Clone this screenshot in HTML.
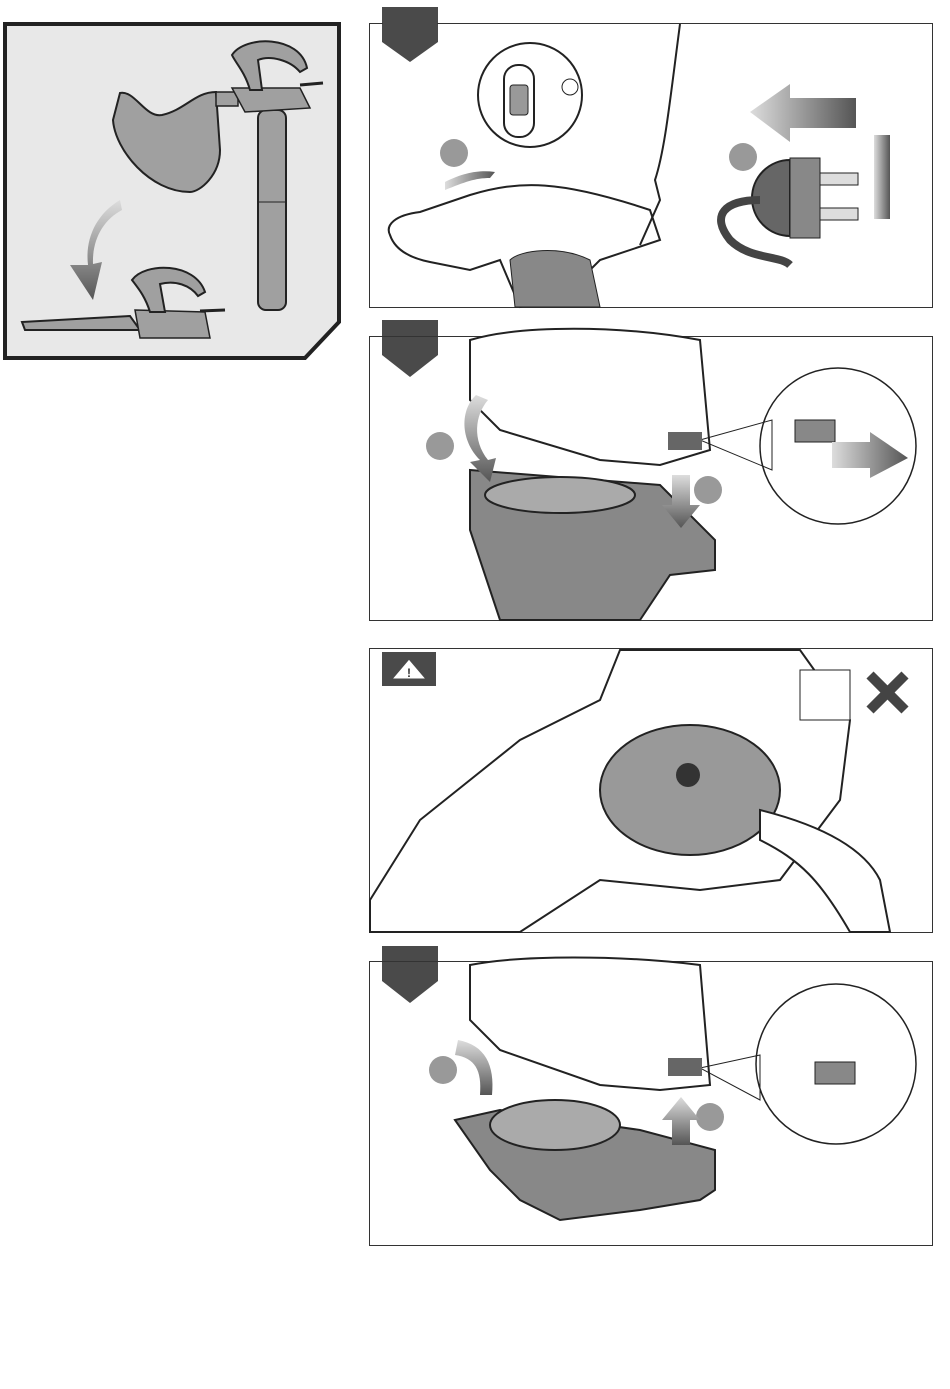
<!DOCTYPE html>
<html><head><meta charset="utf-8"><style>html,body{margin:0;padding:0;background:#fff}svg{display:block}</style></head>
<body>
<svg width="950" height="1389" viewBox="0 0 950 1389" xmlns="http://www.w3.org/2000/svg">
<defs>
<linearGradient id="ga" x1="0" y1="0" x2="0" y2="1"><stop offset="0" stop-color="#ddd"/><stop offset="1" stop-color="#555"/></linearGradient>
<linearGradient id="gh" x1="0" y1="0" x2="1" y2="0"><stop offset="0" stop-color="#ddd"/><stop offset="1" stop-color="#555"/></linearGradient>
</defs>
<path d="M5 24 H339 V322 L305 358 H5 Z" fill="#e8e8e8" stroke="#222" stroke-width="4"/>
<path d="M120 93 C135 90 145 118 162 115 C185 110 195 92 216 92 L220 150 C220 175 200 192 190 192 C150 192 115 150 113 120 Z" fill="#a0a0a0" stroke="#222" stroke-width="2"/>
<rect x="216" y="92" width="22" height="14" fill="#a0a0a0" stroke="#222" stroke-width="1.5"/>
<rect x="258" y="110" width="28" height="200" rx="8" fill="#a0a0a0" stroke="#222" stroke-width="2"/>
<line x1="258" y1="202" x2="286" y2="202" stroke="#222"/>
<path d="M232 88 L300 88 L310 108 L245 112 Z" fill="#a0a0a0" stroke="#222" stroke-width="1.5"/>
<path d="M232 55 C245 35 300 35 307 68 L300 72 C290 60 270 55 258 60 L262 90 L250 90 C245 72 235 62 232 55 Z" fill="#a0a0a0" stroke="#222" stroke-width="2"/>
<line x1="300" y1="85" x2="323" y2="83" stroke="#222" stroke-width="3"/>
<path d="M22 322 L130 316 L140 330 L25 330 Z" fill="#a0a0a0" stroke="#222" stroke-width="2"/>
<path d="M135 310 L205 312 L210 338 L140 338 Z" fill="#a0a0a0" stroke="#222" stroke-width="1.5"/>
<path d="M132 280 C145 262 195 262 205 292 L198 296 C190 285 175 280 160 284 L165 312 L150 312 C145 296 138 288 132 280 Z" fill="#a0a0a0" stroke="#222" stroke-width="2"/>
<line x1="200" y1="311" x2="225" y2="310" stroke="#222" stroke-width="3"/>
<path d="M120 200 C95 215 85 240 88 265 L70 265 L93 300 L102 262 L93 264 C92 240 103 220 122 210 Z" fill="url(#ga)"/>
<path d="M382 7 H438 V42 L410 62 L382 42 Z" fill="#4a4a4a"/>
<path d="M382 320 H438 V355 L410 377 L382 355 Z" fill="#4a4a4a"/>
<path d="M382 946 H438 V981 L410 1003 L382 981 Z" fill="#4a4a4a"/>
<rect x="369.5" y="23.5" width="563" height="284" fill="none" stroke="#333"/>
<rect x="383" y="7" width="54" height="17" fill="#4a4a4a"/>
<circle cx="530" cy="95" r="52" fill="#fff" stroke="#222" stroke-width="2"/>
<rect x="504" y="65" width="30" height="72" rx="14" fill="#fff" stroke="#222" stroke-width="2"/>
<rect x="510" y="85" width="18" height="30" rx="3" fill="#999" stroke="#222"/>
<circle cx="570" cy="87" r="8" fill="#fff" stroke="#222"/>
<circle cx="454" cy="153" r="14" fill="#999"/>
<circle cx="743" cy="157" r="14" fill="#999"/>
<path d="M445 182 C465 172 480 170 495 172 L490 178 C475 178 465 182 445 190 Z" fill="url(#gh)"/>
<path d="M390 235 C385 225 395 215 420 212 L470 195 C520 180 560 180 650 210 L660 240 L600 260 L560 300 L520 307 L500 260 L470 270 L430 262 C410 258 395 250 390 235 Z" fill="#fff" stroke="#222" stroke-width="2"/>
<path d="M510 260 C520 250 560 245 590 260 L600 307 L515 307 Z" fill="#888" stroke="#222"/>
<path d="M680 24 C670 100 665 150 655 180 L660 200 L640 245" fill="none" stroke="#222" stroke-width="2"/>
<path d="M750 112 L790 84 L790 98 L856 98 L856 128 L790 128 L790 142 Z" fill="url(#gh)"/>
<path d="M790 160 A38 38 0 0 0 790 236 Z" fill="#666" stroke="#222" stroke-width="2"/>
<rect x="790" y="158" width="30" height="80" fill="#888" stroke="#222"/>
<rect x="820" y="173" width="38" height="12" fill="#ddd" stroke="#222"/>
<rect x="820" y="208" width="38" height="12" fill="#ddd" stroke="#222"/>
<path d="M760 200 C725 200 710 215 730 240 C750 260 780 255 790 265" fill="none" stroke="#444" stroke-width="8"/>
<rect x="874" y="135" width="16" height="84" fill="url(#gh)"/>
<rect x="369.5" y="336.5" width="563" height="284" fill="none" stroke="#333"/>
<path d="M470 340 C520 325 620 325 700 340 L710 450 L660 465 L600 460 L500 430 L470 400 Z" fill="#fff" stroke="#222" stroke-width="2"/>
<path d="M470 470 L660 485 L715 540 L715 570 L670 575 L640 620 L500 620 L470 530 Z" fill="#888" stroke="#222" stroke-width="2"/>
<ellipse cx="560" cy="495" rx="75" ry="18" fill="#aaa" stroke="#222" stroke-width="2"/>
<circle cx="440" cy="446" r="14" fill="#999"/>
<circle cx="708" cy="490" r="14" fill="#999"/>
<circle cx="874" cy="416" r="14" fill="#999"/>
<path d="M476 395 C460 410 460 440 480 460 L470 462 L490 482 L496 458 L488 460 C472 440 475 415 488 400 Z" fill="url(#ga)"/>
<path d="M672 475 L690 475 L690 505 L700 505 L681 528 L662 505 L672 505 Z" fill="url(#ga)"/>
<circle cx="838" cy="446" r="78" fill="#fff" stroke="#222" stroke-width="1.5"/>
<path d="M700 440 L772 420 L772 470 Z" fill="none" stroke="#222"/>
<rect x="795" y="420" width="40" height="22" fill="#888" stroke="#222"/>
<path d="M832 442 L870 442 L870 432 L908 458 L870 478 L870 468 L832 468 Z" fill="url(#gh)"/>
<rect x="668" y="432" width="34" height="18" fill="#666"/>
<rect x="369.5" y="648.5" width="563" height="284" fill="none" stroke="#333"/>
<rect x="382" y="652" width="54" height="34" fill="#4a4a4a"/>
<path d="M409 659 L426 679 L392 679 Z" fill="#fff" stroke="#4a4a4a"/>
<text x="409" y="677" text-anchor="middle" font-family="Liberation Sans, sans-serif" font-size="12" font-weight="bold" fill="#333">!</text>
<path d="M370 900 L420 820 L520 740 L600 700 L620 650 L800 650 L850 720 L840 800 L780 880 L700 890 L600 880 L520 932 L370 932 Z" fill="#fff" stroke="#222" stroke-width="2"/>
<ellipse cx="690" cy="790" rx="90" ry="65" fill="#999" stroke="#222" stroke-width="2"/>
<circle cx="688" cy="775" r="12" fill="#333"/>
<path d="M870 675 L905 710 M905 675 L870 710" stroke="#444" stroke-width="10"/>
<path d="M760 810 C800 820 860 840 880 880 L890 932 L850 932 C820 880 800 860 760 840 Z" fill="#fff" stroke="#222" stroke-width="2"/>
<rect x="800" y="670" width="50" height="50" fill="#fff" stroke="#222"/>
<rect x="369.5" y="961.5" width="563" height="284" fill="none" stroke="#333"/>
<path d="M470 965 C520 955 620 955 700 965 L710 1085 L660 1090 L600 1085 L500 1050 L470 1020 Z" fill="#fff" stroke="#222" stroke-width="2"/>
<path d="M455 1120 L500 1110 L640 1130 L715 1150 L715 1190 L700 1200 L640 1210 L560 1220 L520 1200 L490 1170 Z" fill="#888" stroke="#222" stroke-width="2"/>
<ellipse cx="555" cy="1125" rx="65" ry="25" fill="#aaa" stroke="#222" stroke-width="2"/>
<circle cx="443" cy="1070" r="14" fill="#999"/>
<circle cx="710" cy="1117" r="14" fill="#999"/>
<path d="M458 1040 C485 1045 495 1065 492 1095 L480 1095 C482 1070 475 1058 455 1055 Z" fill="url(#ga)"/>
<path d="M681 1097 L700 1120 L690 1120 L690 1145 L672 1145 L672 1120 L662 1120 Z" fill="url(#ga)"/>
<circle cx="836" cy="1064" r="80" fill="#fff" stroke="#222" stroke-width="1.5"/>
<path d="M700 1068 L760 1055 L760 1100 Z" fill="none" stroke="#222"/>
<rect x="815" y="1062" width="40" height="22" fill="#888" stroke="#222"/>
<rect x="668" y="1058" width="34" height="18" fill="#666"/>
</svg>
</body></html>
